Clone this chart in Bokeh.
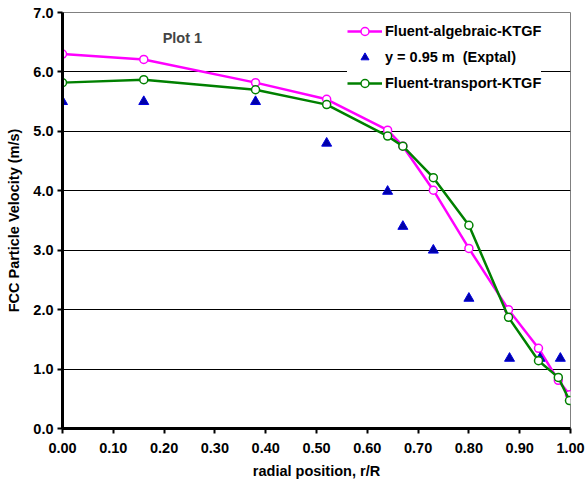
from bokeh.plotting import figure
from bokeh.models import (FixedTicker, NumeralTickFormatter, Legend, LegendItem,
                          Label, Range1d)
from bokeh.embed import file_html
from bokeh.resources import INLINE

# data
r_model = [0.0, 0.16, 0.38, 0.52, 0.64, 0.67, 0.73, 0.80, 0.878, 0.937, 0.976, 0.998]
v_algebraic = [6.30, 6.21, 5.82, 5.54, 5.02, 4.75, 4.01, 3.03, 2.00, 1.35, 0.81, 0.57]
v_transport = [5.82, 5.87, 5.70, 5.45, 4.92, 4.75, 4.22, 3.42, 1.87, 1.14, 0.86, 0.47]
r_exp = [0.0, 0.16, 0.38, 0.52, 0.64, 0.67, 0.73, 0.80, 0.88, 0.94, 0.98]
v_exp = [5.50, 5.50, 5.50, 4.80, 3.99, 3.40, 3.00, 2.19, 1.18, 1.18, 1.18]
x_ticks = [0.0, 0.1, 0.2, 0.3, 0.4, 0.5, 0.6, 0.7, 0.8, 0.9, 1.0]
y_ticks = [0, 1, 2, 3, 4, 5, 6, 7]

FONT = "Liberation Sans"
FS = "14.5px"

p = figure(width=585, height=485, output_backend="svg", toolbar_location=None,
           x_range=Range1d(0, 1), y_range=Range1d(0, 7),
           min_border_left=62, min_border_right=15, min_border_top=12,
           min_border_bottom=57)
p.background_fill_color = "white"
p.border_fill_color = "white"
p.outline_line_color = "#808080"
p.outline_line_width = 1

p.xgrid.visible = False
p.ygrid.ticker = FixedTicker(ticks=y_ticks)
p.ygrid.grid_line_color = "black"
p.ygrid.grid_line_width = 1

for ax in (p.xaxis[0], p.yaxis[0]):
    ax.axis_line_width = 3
    ax.axis_line_color = "black"
    ax.major_tick_line_width = 2
    ax.major_tick_line_color = "black"
    ax.major_tick_out = 5
    ax.major_tick_in = 0
    ax.minor_tick_line_color = None
    ax.major_label_text_font = FONT
    ax.major_label_text_font_style = "bold"
    ax.major_label_text_font_size = FS
    ax.major_label_text_color = "black"
    ax.axis_label_text_font = FONT
    ax.axis_label_text_font_style = "bold"
    ax.axis_label_text_font_size = FS
    ax.axis_label_text_color = "black"

p.xaxis.ticker = FixedTicker(ticks=x_ticks)
p.xaxis.formatter = NumeralTickFormatter(format="0.00")
p.xaxis.axis_label = "radial position, r/R"
p.xaxis.major_label_standoff = 9
p.xaxis.axis_label_standoff = 7
p.yaxis.ticker = FixedTicker(ticks=y_ticks)
p.yaxis.formatter = NumeralTickFormatter(format="0.0")
p.yaxis.axis_label = "FCC Particle Velocity (m/s)"
p.yaxis.major_label_standoff = 4
p.yaxis.axis_label_standoff = 8

l1 = p.line(r_model, v_algebraic, line_color="#FF00FF", line_width=2.5)
c1 = p.scatter(r_model, v_algebraic, marker="circle", size=8, fill_color="white",
               line_color="#FF00FF", line_width=1.5)
t = p.scatter(r_exp, v_exp, marker="triangle", size=10, fill_color="#0000A8",
              line_color="#0000E0", line_width=1)
l2 = p.line(r_model, v_transport, line_color="#008000", line_width=2.5)
c2 = p.scatter(r_model, v_transport, marker="circle", size=8, fill_color="white",
               line_color="#008000", line_width=1.5)

legend = Legend(items=[
    LegendItem(label="Fluent-algebraic-KTGF", renderers=[l1, c1]),
    LegendItem(label="y = 0.95 m  (Exptal)", renderers=[t]),
    LegendItem(label="Fluent-transport-KTGF", renderers=[l2, c2]),
], location=(285, 335))
legend.background_fill_color = "white"
legend.background_fill_alpha = 1.0
legend.border_line_color = None
legend.label_text_font = FONT
legend.label_text_font_style = "bold"
legend.label_text_font_size = FS
legend.label_text_color = "black"
legend.glyph_width = 35
legend.glyph_height = 20
legend.label_height = 20
legend.label_standoff = 3
legend.spacing = 6
legend.padding = 6
legend.margin = 0
p.add_layout(legend)

p.add_layout(Label(x=0.236, y=6.57, text="Plot 1", text_font=FONT,
                   text_font_style="bold", text_font_size=FS,
                   text_align="center", text_baseline="middle"))

open("out.html", "w").write(file_html(p, INLINE))
